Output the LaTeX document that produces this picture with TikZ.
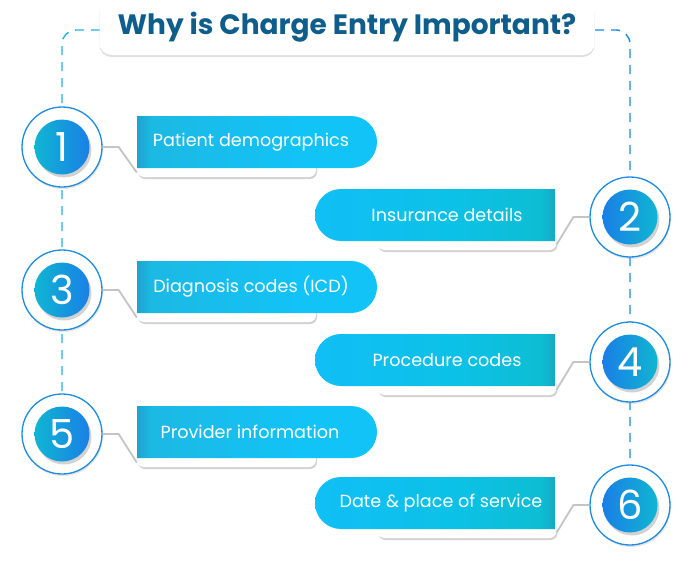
\documentclass[tikz,border=0pt]{standalone}
\usepackage{fontspec}
\setmainfont{Poppins}
\usetikzlibrary{shapes.misc,shadows,calc}
\definecolor{titleblue}{HTML}{0F5D8A}
\definecolor{dashL}{HTML}{22B3D8}
\definecolor{dashR}{HTML}{1E88E5}
\definecolor{ring}{HTML}{1C8BE0}
\definecolor{lpA}{HTML}{1AA6C9}
\definecolor{lpB}{HTML}{1CB9E4}
\definecolor{lpC}{HTML}{12C3F7}
\definecolor{rpA}{HTML}{10BFF6}
\definecolor{rpB}{HTML}{0CC1E6}
\definecolor{rpC}{HTML}{0DBDD3}
\definecolor{rpD}{HTML}{17A8C3}
\definecolor{cTeal}{HTML}{10B6D2}
\definecolor{cBlue}{HTML}{1A7FE6}
\definecolor{connc}{HTML}{C4C4C4}
\pgfdeclarehorizontalshading{lpillshade}{100bp}{color(0bp)=(lpA); color(25bp)=(lpA); color(28bp)=(lpB); color(60bp)=(lpC); color(100bp)=(lpC)}
\pgfdeclarehorizontalshading{rpillshade}{100bp}{color(0bp)=(rpA); color(25bp)=(rpA); color(55bp)=(rpB); color(72bp)=(rpC); color(75bp)=(rpD); color(100bp)=(rpD)}
\tikzset{
  titlebox/.style={rounded corners=12pt, fill=white, minimum width=495pt, minimum height=56pt,
    drop shadow={opacity=0.25, shadow xshift=0pt, shadow yshift=-2pt},
    text=titleblue, font=\fontsize{28}{30}\selectfont\bfseries, inner sep=0pt},
  dashl/.style={draw=dashL, line width=1.4pt, dash pattern=on 9pt off 7pt, rounded corners=14pt},
  dashr/.style={draw=dashR, line width=1.4pt, dash pattern=on 9pt off 7pt, rounded corners=14pt},
  outer/.style={circle, minimum size=80pt, inner sep=0pt, draw=ring, line width=1.3pt, fill=white,
    drop shadow={opacity=0.2, shadow xshift=1pt, shadow yshift=-2pt}},
  innerL/.style={circle, minimum size=55pt, inner sep=0pt, left color=cTeal, right color=cBlue,
    text=white, font=\fontsize{40}{40}\selectfont,
    drop shadow={opacity=0.35, shadow xshift=2pt, shadow yshift=-3pt}},
  innerR/.style={innerL, left color=cBlue, right color=cTeal},
  lpill/.style={rounded rectangle, rounded rectangle left arc=none, minimum width=240pt,
    minimum height=52pt, inner sep=0pt, shading=lpillshade},
  rpill/.style={rounded rectangle, rounded rectangle right arc=none, minimum width=240pt,
    minimum height=52pt, inner sep=0pt, shading=rpillshade},
  bar/.style={rounded corners=7pt, fill=white, minimum width=179pt, minimum height=17pt, inner sep=0pt,
    drop shadow={opacity=0.35, shadow xshift=1pt, shadow yshift=-2pt}},
  ptext/.style={text=white, font=\fontsize{17.6}{19}\selectfont, inner sep=0pt},
  conn/.style={draw=connc, line width=1.8pt}
}
\begin{document}
\begin{tikzpicture}[x=1pt,y=-1pt]
\useasboundingbox[fill=white] (0,0) rectangle (692,570);
% dashed frame lines
\coordinate (dl0) at (100,30);
\coordinate (dl1) at (62,30);
\coordinate (dl2) at (62,434);
\coordinate (dr0) at (595,30);
\coordinate (dr1) at (630,30);
\coordinate (dr2) at (630,505);
\draw[dashl] (dl0) -- (dl1) -- (dl2);
\draw[dashr] (dr0) -- (dr1) -- (dr2);
% title
\node[titlebox] (title) at (347,27) {Why is Charge Entry Important?};

% bars
\node[bar] (b1) at (226.5,168.5) {};
\node[bar] (b2) at (467,241.5) {};
\node[bar] (b3) at (226.5,313.5) {};
\node[bar] (b4) at (467,386.5) {};
\node[bar] (b5) at (226.5,458.5) {};
\node[bar] (b6) at (467,529.5) {};
% pills
\node[lpill] (p1) at (257,142) {};
\node[rpill] (p2) at (435,215) {};
\node[lpill] (p3) at (257,287) {};
\node[rpill] (p4) at (435,360) {};
\node[lpill] (p5) at (257,432) {};
\node[rpill] (p6) at (435,503) {};
% texts
\node[ptext] (t1) at (251,142) {Patient demographics};
\node[ptext] (t2) at (447,215) {Insurance details};
\node[ptext] (t3) at (251,287) {Diagnosis codes (ICD)};
\node[ptext] (t4) at (447,360) {Procedure codes};
\node[ptext] (t5) at (250,432) {Provider information};
\node[ptext] (t6) at (441,503) {Date \& place of service};

% circles
\node[outer] (c1) at (62,147) {};
\node[outer] (c2) at (630,217) {};
\node[outer] (c3) at (62,290) {};
\node[outer] (c4) at (630,362) {};
\node[outer] (c5) at (62,434) {};
\node[outer] (c6) at (630,505) {};
\node[innerL] (n1) at (c1) {1};
\node[innerR] (n2) at (c2) {2};
\node[innerL] (n3) at (c3) {3};
\node[innerR] (n4) at (c4) {4};
\node[innerL] (n5) at (c5) {5};
\node[innerR] (n6) at (c6) {6};

% connectors
\foreach \i in {1,3,5}{
  \coordinate (k\i) at ($(c\i.east)+(16,0)$);
  \draw[conn] (c\i.east) -- (k\i) -- ($(b\i.west)+(0,4)$);
}
\foreach \i in {2,4,6}{
  \coordinate (k\i) at ($(c\i.west)+(-16,0)$);
  \draw[conn] (c\i.west) -- (k\i) -- ($(b\i.east)+(0,3)$);
}
\end{tikzpicture}
\end{document}
